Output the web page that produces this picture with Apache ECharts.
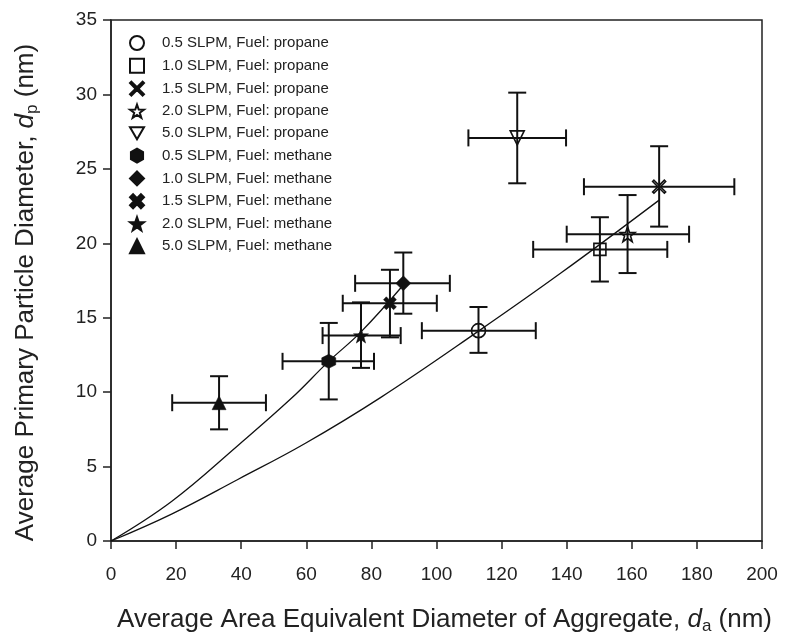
<!DOCTYPE html>
<html><head><meta charset="utf-8">
<script src="https://cdn.jsdelivr.net/npm/echarts@6/dist/echarts.min.js"></script>
<style>html,body{margin:0;padding:0;background:#fff}#c{width:790px;height:640px}</style>
</head><body><div id="c"></div>
<script>
// ---- data ----
const seriesNames = [
  '0.5 SLPM, Fuel: propane', '1.0 SLPM, Fuel: propane', '1.5 SLPM, Fuel: propane',
  '2.0 SLPM, Fuel: propane', '5.0 SLPM, Fuel: propane',
  '0.5 SLPM, Fuel: methane', '1.0 SLPM, Fuel: methane', '1.5 SLPM, Fuel: methane',
  '2.0 SLPM, Fuel: methane', '5.0 SLPM, Fuel: methane'
];
const pointX   = [112.9, 150.2, 168.4, 158.7, 124.8, 66.9, 89.8, 85.7, 76.8, 33.2];
const pointY   = [14.13, 19.59, 23.8, 20.61, 27.08, 12.07, 17.31, 15.97, 13.8, 9.29];
const xErrLow  = [95.5, 129.7, 145.3, 140.0, 109.8, 52.7, 75.0, 71.2, 65.0, 18.8];
const xErrHigh = [130.5, 170.9, 191.5, 177.6, 139.8, 80.8, 104.1, 100.1, 89.0, 47.6];
const yErrLow  = [12.64, 17.43, 21.12, 18.0, 24.03, 9.51, 15.27, 13.68, 11.63, 7.5];
const yErrHigh = [15.72, 21.75, 26.52, 23.24, 30.12, 14.65, 19.38, 18.22, 16.03, 11.07];

const fitMethaneX = [0, 18.6, 39.1, 55.5, 66.8, 76.8, 89.8];
const fitMethaneY = [0, 2.66, 6.44, 9.6, 12.05, 14.05, 17.2];
const fitPropaneX = [0, 18.6, 39.1, 59.6, 82.9, 112.9, 138.2, 168.4];
const fitPropaneY = [0, 1.81, 4.15, 6.55, 9.65, 14.1, 18.0, 22.9];

const xMin = 0, xMax = 200, xStep = 20;
const yMin = 0, yMax = 35, yStep = 5;

// ---- styling ----
const INK = '#111';
const HOLLOW = 'rgba(0,0,0,0)';
const symStar = 'path://M0,-1L0.235,-0.324L0.951,-0.309L0.380,0.124L0.588,0.809L0,0.4L-0.588,0.809L-0.380,0.124L-0.951,-0.309L-0.235,-0.324Z';
const symHex = 'path://M0,-1L0.866,-0.5L0.866,0.5L0,1L-0.866,0.5L-0.866,-0.5Z';
const symXThin = 'path://M1,0L5,4L9,0L10,1L6,5L10,9L9,10L5,6L1,10L0,9L4,5L0,1Z';
const symXThick = 'path://M2.2,0L5,2.8L7.8,0L10,2.2L7.2,5L10,7.8L7.8,10L5,7.2L2.2,10L0,7.8L2.8,5L0,2.2Z';
const symDown = 'path://M0,0L2,0L1,1.732Z';
const markerStyles = [
  {symbol: 'circle', size: 14, hollow: true},
  {symbol: 'rect', size: 12, hollow: true},
  {symbol: symXThin, size: 13, hollow: true},
  {symbol: symStar, size: 15, hollow: true},
  {symbol: symDown, size: 14, hollow: true},
  {symbol: symHex, size: 14, hollow: false},
  {symbol: 'diamond', size: 15, hollow: false},
  {symbol: symXThick, size: 13, hollow: false},
  {symbol: symStar, size: 15, hollow: false},
  {symbol: 'triangle', size: 14, hollow: false}
];

function zip(a, b) { return a.map((v, i) => [v, b[i]]); }

const errData = pointX.map((x, i) => [x, pointY[i], xErrLow[i], xErrHigh[i], yErrLow[i], yErrHigh[i]]);

function renderErr(params, api) {
  const x = api.value(0), y = api.value(1);
  const c = api.coord([x, y]);
  const pxl = api.coord([api.value(2), y])[0];
  const pxh = api.coord([api.value(3), y])[0];
  const pyl = api.coord([x, api.value(4)])[1];
  const pyh = api.coord([x, api.value(5)])[1];
  const capV = 8.5, capH = 9;
  const st = {stroke: '#111', lineWidth: 2, fill: null};
  const ln = (x1, y1, x2, y2) => ({type: 'line', shape: {x1, y1, x2, y2}, style: st});
  return {type: 'group', children: [
    ln(pxl, c[1], pxh, c[1]),
    ln(pxl, c[1] - capV, pxl, c[1] + capV),
    ln(pxh, c[1] - capV, pxh, c[1] + capV),
    ln(c[0], pyl, c[0], pyh),
    ln(c[0] - capH, pyl, c[0] + capH, pyl),
    ln(c[0] - capH, pyh, c[0] + capH, pyh)
  ]};
}

const FONT = 'Liberation Sans, Arial, sans-serif';
const series = [
  {type: 'line', data: zip(fitMethaneX, fitMethaneY), smooth: 0.4, symbol: 'none',
   lineStyle: {color: INK, width: 1.3}, z: 1, silent: true},
  {type: 'line', data: zip(fitPropaneX, fitPropaneY), smooth: 0.4, symbol: 'none',
   lineStyle: {color: INK, width: 1.3}, z: 1, silent: true},
  {type: 'custom', renderItem: renderErr, data: errData, z: 2, silent: true,
   encode: {x: [0, 2, 3], y: [1, 4, 5]}}
];
seriesNames.forEach((name, i) => {
  const m = markerStyles[i];
  series.push({
    type: 'scatter', name: name, data: [[pointX[i], pointY[i]]],
    symbol: m.symbol, symbolSize: m.size, z: 3,
    itemStyle: m.hollow
      ? {color: HOLLOW, borderColor: INK, borderWidth: 1.6, opacity: 1}
      : {color: INK, borderColor: INK, borderWidth: 0.5, opacity: 1}
  });
});

const titleRich = {
  n: {fontSize: 26, lineHeight: 30, fontFamily: FONT, color: '#222'},
  i: {fontSize: 26, lineHeight: 30, fontStyle: 'italic', fontFamily: FONT, color: '#222'},
  s: {fontSize: 17, lineHeight: 14, verticalAlign: 'bottom', fontFamily: FONT, color: '#222'}
};

const chart = echarts.init(document.getElementById('c'), null, {renderer: 'canvas'});
chart.setOption({
  animation: false,
  backgroundColor: '#fff',
  textStyle: {fontFamily: FONT},
  grid: {left: 111, right: 28, top: 20, bottom: 98, show: true, borderColor: '#222', borderWidth: 1.5},
  legend: {
    data: seriesNames, orient: 'vertical', left: 129, top: 35, padding: 0,
    itemWidth: 14, itemHeight: 14, itemGap: 6.85,
    textStyle: {fontSize: 15, color: '#222', fontFamily: FONT, padding: [0, 0, 0, 13]},
    selectedMode: false
  },
  xAxis: {
    type: 'value', min: xMin, max: xMax, interval: xStep,
    splitLine: {show: false},
    axisLine: {lineStyle: {color: '#222', width: 1.5}},
    axisTick: {length: 8, lineStyle: {color: '#222', width: 1.5}},
    axisLabel: {fontSize: 19, color: '#222', margin: 24, fontFamily: FONT},
    name: '{n|Average Area Equivalent Diameter of Aggregate, }{i|d}{s|a}{n| (nm)}',
    nameLocation: 'middle', nameGap: 64,
    nameTextStyle: {fontFamily: FONT, color: '#222', padding: [0, 0, 0, 16], rich: titleRich}
  },
  yAxis: {
    type: 'value', min: yMin, max: yMax, interval: yStep,
    splitLine: {show: false},
    axisLine: {lineStyle: {color: '#222', width: 1.5}},
    axisTick: {length: 8, lineStyle: {color: '#222', width: 1.5}},
    axisLabel: {fontSize: 19, color: '#222', margin: 14, fontFamily: FONT},
    name: '{n|Average Primary Particle Diameter, }{i|d}{s|p}{n| (nm)}',
    nameLocation: 'middle', nameGap: 70,
    nameTextStyle: {fontFamily: FONT, color: '#222', padding: [0, 24, 0, 0], rich: titleRich}
  },
  series: series
});
</script></body></html>
